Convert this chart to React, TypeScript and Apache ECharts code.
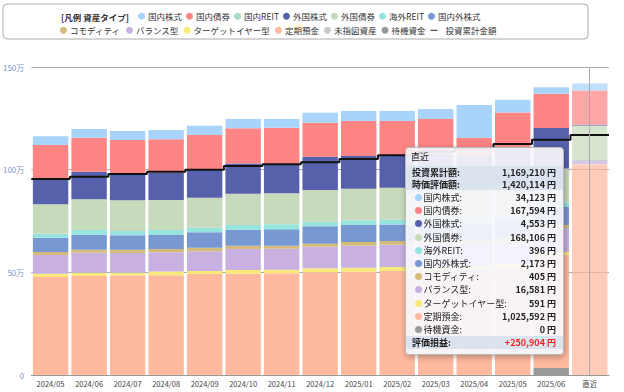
import React, { useEffect, useRef } from "react";
import * as echarts from "echarts";

const months = ["2024/05","2024/06","2024/07","2024/08","2024/09","2024/10","2024/11","2024/12","2025/01","2025/02","2025/03","2025/04","2025/05","2025/06","直近"];

// values in yen (last column from the tooltip)
const kokunaiKabu = [42400,42400,43800,45300,45300,45300,42400,48700,48700,48700,48700,160700,61400,31200,34123];
const kokunaiSaiken = [163600,165600,163100,161700,170500,170500,181700,165600,170500,170500,168700,82800,167500,167000,167594];
const kokunaiReit = [0,0,0,0,0,0,0,0,0,0,0,0,0,0,0];
const gaikokuKabu = [125200,134400,130500,133900,134900,148000,137800,162200,159200,154400,157000,152900,175300,197100,4553];
const gaikokuSaiken = [142700,149500,149500,146100,146100,152400,151000,154400,153900,155800,157000,158000,160000,165000,168106];
const kaigaiReit = [19500,22900,20900,24400,22400,22900,24400,22400,22900,22400,23000,22500,23000,23000,396];
const kokunaigaiKabu = [70100,73000,70100,68200,75000,77900,79900,84700,82800,81300,83000,80000,84000,87700,2173];
const commodity = [14600,14600,16100,16100,17500,16100,14600,14600,18000,18000,18500,18500,19000,14600,405];
const balance = [90600,97400,95900,94500,95900,102300,102300,105200,107100,108600,110000,108000,110000,117000,16581];
const targetYear = [16500,16000,14500,17500,14500,18000,17500,19500,19500,19500,19500,19500,20000,14600,591];
const teikiYokin = [477000,482000,484000,486000,492000,493000,495000,500000,503000,506000,510000,512000,520000,550000,1025592];
const mishitei = [0,0,0,0,0,0,0,0,0,0,0,0,0,0,0];
const taiki = [0,0,0,0,0,0,0,0,0,0,0,0,0,34000,0];
const investment = [955000,966000,979000,990000,1000000,1018000,1026000,1036000,1052000,1070000,1087000,1106000,1125000,1146000,1169210];

const yTicks = [0, 500000, 1000000, 1500000];

// stacking order bottom -> top
const barSeries = [
  { name: "待機資金", data: taiki, color: "#999999" },
  { name: "未指図資産", data: mishitei, color: "#c8c8c8" },
  { name: "定期預金", data: teikiYokin, color: "#ffb99e" },
  { name: "ターゲットイヤー型", data: targetYear, color: "#f8e97a" },
  { name: "バランス型", data: balance, color: "#c8b0e0" },
  { name: "コモディティ", data: commodity, color: "#d4bb7a" },
  { name: "国内外株式", data: kokunaigaiKabu, color: "#7898d2" },
  { name: "海外REIT", data: kaigaiReit, color: "#95e4de" },
  { name: "外国債券", data: gaikokuSaiken, color: "#c8dabc" },
  { name: "外国株式", data: gaikokuKabu, color: "#5761ab" },
  { name: "国内REIT", data: kokunaiReit, color: "#a8dcc4" },
  { name: "国内債券", data: kokunaiSaiken, color: "#ff8585" },
  { name: "国内株式", data: kokunaiKabu, color: "#a8d3fb" },
];

const legendRow1 = ["国内株式","国内債券","国内REIT","外国株式","外国債券","海外REIT","国内外株式"];
const legendRow2 = ["コモディティ","バランス型","ターゲットイヤー型","定期預金","未指図資産","待機資金"];
const lineName = "投資累計金額";

const tooltipItems = ["国内株式","国内債券","外国株式","外国債券","海外REIT","国内外株式","コモディティ","バランス型","ターゲットイヤー型","定期預金","待機資金"];

const FONT = "'Noto Sans CJK JP', 'Noto Sans', sans-serif";
const fmt = (n: number) => n.toLocaleString("en-US");

export default function App() {
  const ref = useRef<HTMLDivElement>(null);
  useEffect(() => {
    if (!ref.current) return;
    const chart = echarts.init(ref.current, null, { renderer: "svg" });
    const last = months.length - 1;

    const series: any[] = barSeries.map((s) => ({
      name: s.name,
      type: "bar",
      stack: "total",
      barCategoryGap: "8%",
      itemStyle: { color: s.color },
      emphasis: { disabled: true },
      data: s.data.map((v, i) => (i === last ? { value: v, itemStyle: { opacity: 0.72 } } : v)),
    }));
    const lineData: number[][] = investment.map((v, i) => [i, v]);
    lineData.push([months.length, investment[last]]);
    series.push({
      name: lineName,
      type: "line",
      xAxisIndex: 1,
      yAxisIndex: 0,
      step: "end",
      symbol: "none",
      color: "#111",
      lineStyle: { color: "#111", width: 2 },
      emphasis: { disabled: true },
      z: 10,
      data: lineData,
    });

    const colorOf: Record<string, string> = {};
    const valueOf: Record<string, number[]> = {};
    barSeries.forEach((s) => {
      colorOf[s.name] = s.color;
      valueOf[s.name] = s.data;
    });

    const formatter = () => {
      const total = barSeries.reduce((a, s) => a + s.data[last], 0);
      const inv = investment[last];
      const pl = total - inv;
      const band = "background:#dbe3ee;";
      const rowStyle = "display:flex;justify-content:space-between;align-items:center;";
      let h = `<div style="width:157px;font-family:${FONT};color:#222;font-size:9px;">`;
      h += `<div style="height:18px;line-height:18px;padding-left:5px;">${months[last]}</div>`;
      h += `<div style="${band}">`;
      h += `<div style="${rowStyle}height:12px;padding:0 7px 0 6px;font-weight:bold;"><span>投資累計額:</span><span>${fmt(inv)} 円</span></div>`;
      h += `<div style="${rowStyle}height:12px;padding:0 7px 0 6px;font-weight:bold;"><span>時価評価額:</span><span>${fmt(total)} 円</span></div>`;
      h += `</div><div style="height:1px"></div>`;
      tooltipItems.forEach((key) => {
        h += `<div style="${rowStyle}height:13.2px;padding:0 7px 0 9px;"><span style="display:flex;align-items:center;"><span style="display:inline-block;width:7px;height:7px;border-radius:50%;background:${colorOf[key]};margin-right:1.5px;"></span>${key}:</span><span style="font-weight:bold;">${fmt(valueOf[key][last])} 円</span></div>`;
      });
      h += `<div style="${band}${rowStyle}height:12.5px;padding:0 7px 0 6px;font-weight:bold;"><span>評価損益:</span><span style="color:#ff2020;">${pl >= 0 ? "+" : ""}${fmt(pl)} 円</span></div>`;
      h += `<div style="height:5px"></div></div>`;
      return h;
    };

    const legendText = { fontSize: 8.5, color: "#333", padding: [0, 0, 0, -2] };

    chart.setOption({
      animation: false,
      textStyle: { fontFamily: FONT },
      graphic: [
        { type: "rect", shape: { x: 3, y: 4, width: 585, height: 35, r: 4 }, style: { fill: "#fff", stroke: "#aaa", lineWidth: 1 }, z: -1 },
        { type: "text", x: 61, y: 17, style: { text: "[凡例 資産タイプ]", font: `bold 8.5px ${FONT}`, fill: "#333", verticalAlign: "middle" } },
      ],
      legend: [
        {
          data: legendRow1, left: 138, top: 12, padding: 0, itemGap: 4, itemWidth: 7, itemHeight: 7, icon: "circle",
          textStyle: legendText, selectedMode: false,
        },
        {
          data: [
            ...legendRow2,
            { name: lineName, icon: "path://M0,5h12v1.6h-12z", textStyle: { padding: [0, 0, 0, 3] } },
          ],
          left: 60, top: 26, padding: 0, itemGap: 5, itemWidth: 7, itemHeight: 7, icon: "circle",
          textStyle: legendText, selectedMode: false,
        },
      ],
      grid: { left: 29, right: 15, top: 67, bottom: 17, containLabel: false },
      tooltip: {
        trigger: "axis",
        triggerOn: "none",
        alwaysShowContent: true,
        transitionDuration: 0,
        position: [405, 147],
        padding: 0,
        backgroundColor: "rgba(247,247,252,0.92)",
        borderColor: "#bbb",
        borderWidth: 1,
        borderRadius: 4,
        extraCssText: "box-shadow:1px 2px 6px rgba(0,0,0,0.3);",
        axisPointer: { type: "line", lineStyle: { color: "#aaa", width: 1, type: "solid" } },
        formatter,
      },
      xAxis: [
        {
          type: "category",
          data: months,
          axisTick: { alignWithLabel: true, length: 3, lineStyle: { color: "#999" } },
          axisLine: { lineStyle: { color: "#999" } },
          axisLabel: { fontSize: 7.5, color: "#444", margin: 5 },
        },
        { type: "value", min: 0, max: months.length, show: false, axisPointer: { show: false } },
      ],
      yAxis: {
        type: "value",
        min: yTicks[0],
        max: yTicks[yTicks.length - 1],
        interval: yTicks[1] - yTicks[0],
        axisLine: { show: false },
        axisTick: { show: false },
        splitLine: { lineStyle: { color: "#aaa" } },
        axisLabel: {
          fontSize: 8,
          color: "#8096c8",
          margin: 7,
          formatter: (v: number) => (v === 0 ? "0" : `${v / 10000}万`),
        },
      },
      series,
    });
    chart.dispatchAction({ type: "showTip", seriesIndex: 2, dataIndex: last });
    return () => chart.dispose();
  }, []);
  return <div ref={ref} style={{ position: "absolute", left: 0, top: 0, width: 624, height: 392 }} />;
}
